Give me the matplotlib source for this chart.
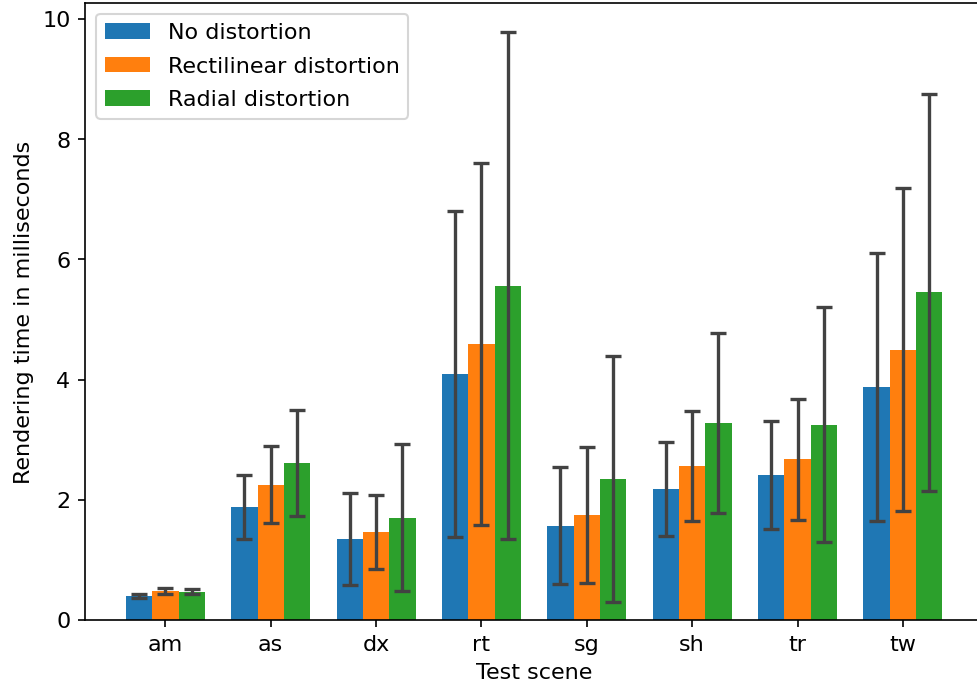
import numpy as np
import matplotlib
matplotlib.use("Agg")
import matplotlib.pyplot as plt

scenes = ["am", "as", "dx", "rt", "sg", "sh", "tr", "tw"]
series_names = ["No distortion", "Rectilinear distortion", "Radial distortion"]

# mean rendering time (ms)
no_dist = [0.40, 1.88, 1.35, 4.09, 1.57, 2.18, 2.41, 3.88]
rect_dist = [0.48, 2.25, 1.46, 4.59, 1.75, 2.56, 2.67, 4.50]
radial_dist = [0.47, 2.61, 1.70, 5.56, 2.35, 3.28, 3.25, 5.45]

# standard deviation (ms)
no_err = [0.04, 0.54, 0.77, 2.71, 0.98, 0.78, 0.90, 2.23]
rect_err = [0.045, 0.64, 0.62, 3.01, 1.13, 0.92, 1.00, 2.69]
radial_err = [0.04, 0.88, 1.22, 4.22, 2.05, 1.50, 1.95, 3.30]

means = [no_dist, rect_dist, radial_dist]
errs = [no_err, rect_err, radial_err]
colors = ["#1f77b4", "#ff7f0e", "#2ca02c"]

plt.rcParams["font.size"] = 10.7

dpi = 150
W, H = 977, 688
fig = plt.figure(figsize=((W + 0.5) / dpi, (H + 0.5) / dpi), dpi=dpi)
ax = fig.add_axes([85 / W, 68 / H, 897.7 / W, 616.7 / H])

x = np.arange(len(scenes))
width = 0.25
for i, (m, e, c, name) in enumerate(zip(means, errs, colors, series_names)):
    ax.bar(x + (i - 1) * width, m, width, yerr=e, color=c, label=name,
           capsize=4,
           error_kw=dict(ecolor="#424242", elinewidth=1.6, capthick=1.6))

ax.spines["right"].set_visible(False)
ax.set_xticks(x)
ax.set_xticklabels(scenes)
ax.set_xlabel("Test scene")
ax.set_ylabel("Rendering time in milliseconds")
ax.legend(loc="upper left", labelspacing=0.6)

fig.savefig("out.png", dpi=dpi)
